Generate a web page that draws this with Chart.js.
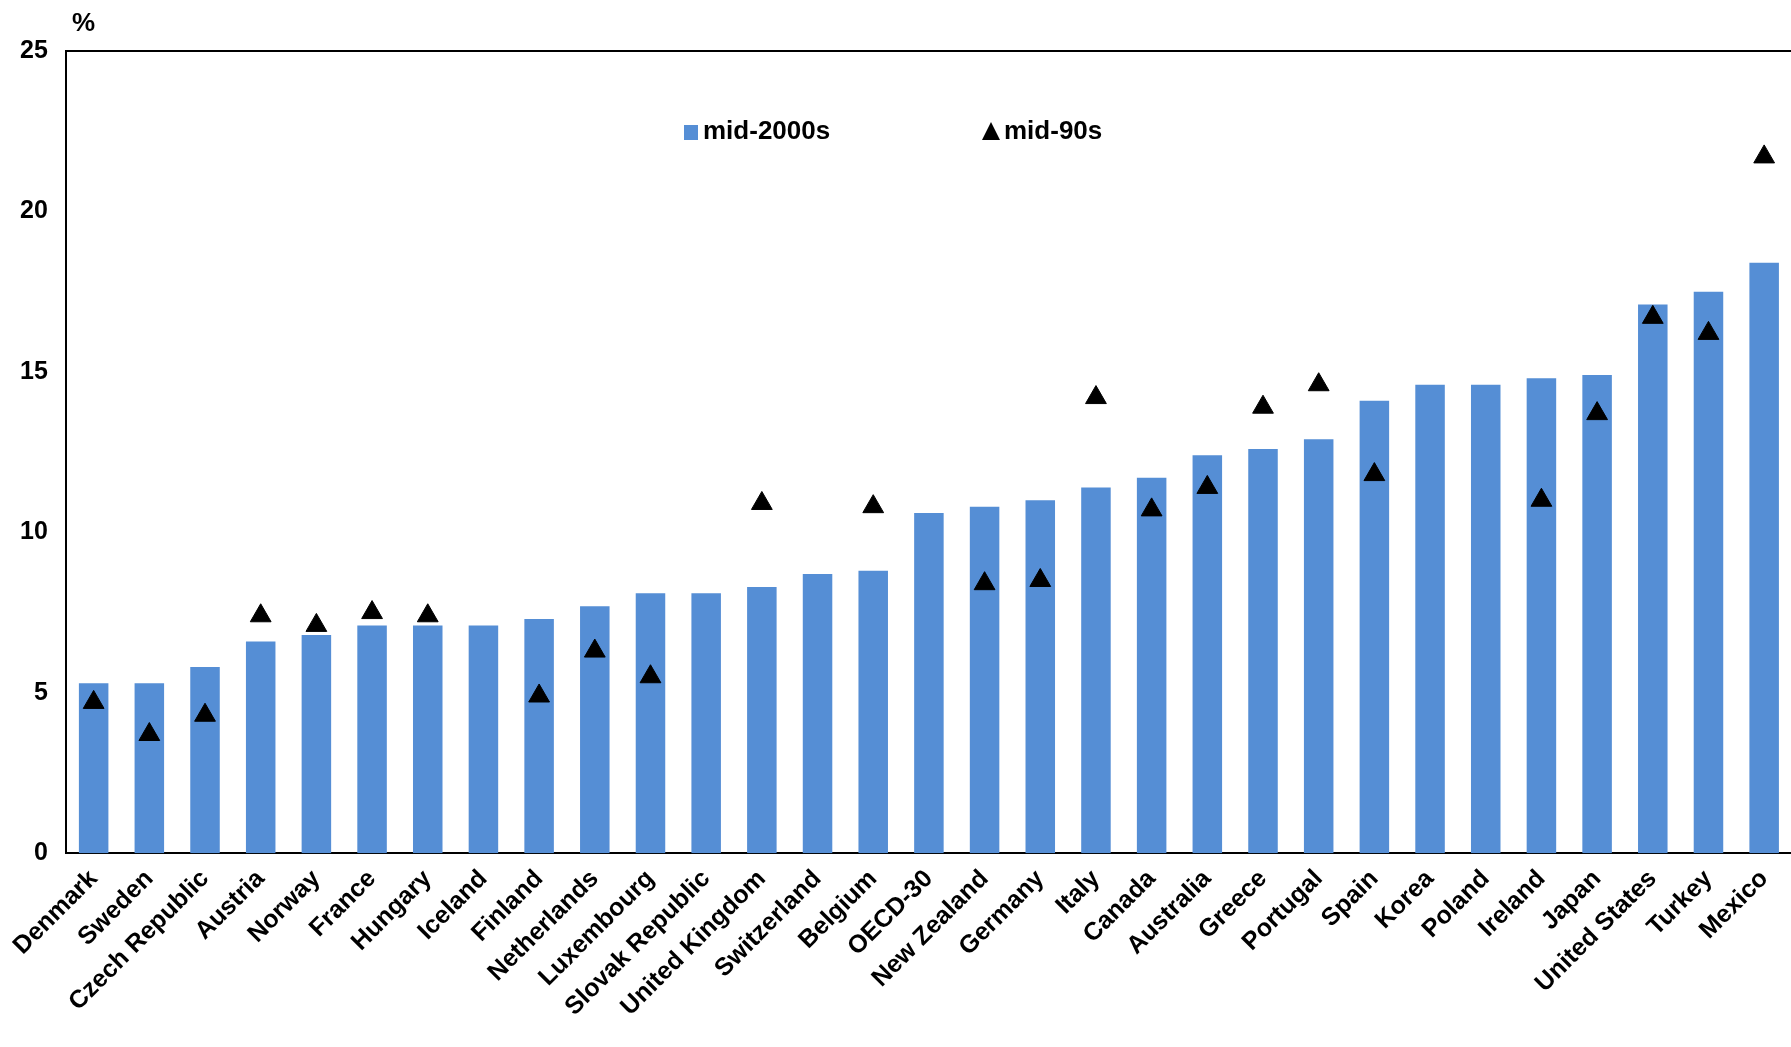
<!DOCTYPE html>
<html>
<head>
<meta charset="utf-8">
<script src="https://cdn.jsdelivr.net/npm/chart.js@4"></script>
<style>
  body { margin: 0; background: #fff; overflow: hidden; }
  #wrap { width: 1805px; height: 1047px; position: relative; }
</style>
</head>
<body>
<div id="wrap"><canvas id="chart"></canvas></div>
<script>
// Données
const countries = ['Denmark', 'Sweden', 'Czech Republic', 'Austria', 'Norway', 'France', 'Hungary', 'Iceland',
    'Finland', 'Netherlands', 'Luxembourg', 'Slovak Republic', 'United Kingdom', 'Switzerland', 'Belgium',
    'OECD-30', 'New Zealand', 'Germany', 'Italy', 'Canada', 'Australia', 'Greece', 'Portugal', 'Spain',
    'Korea', 'Poland', 'Ireland', 'Japan', 'United States', 'Turkey', 'Mexico'];
const mid2000s = [5.3, 5.3, 5.8, 6.6, 6.8, 7.1, 7.1, 7.1, 7.3, 7.7, 8.1, 8.1, 8.3, 8.7, 8.8,
    10.6, 10.8, 11.0, 11.4, 11.7, 12.4, 12.6, 12.9, 14.1, 14.6, 14.6, 14.8, 14.9, 17.1, 17.5, 18.4];
const mid90s = [4.7, 3.7, 4.3, 7.4, 7.1, 7.5, 7.4, null, 4.9, 6.3, 5.5, null, 10.9, null, 10.8,
    null, 8.4, 8.5, 14.2, 10.7, 11.4, 13.9, 14.6, 11.8, null, null, 11.0, 13.7, 16.7, 16.2, 21.7];
const yTicks = [0, 5, 10, 15, 20, 25];

const font = 'Liberation Sans, Arial, sans-serif';

// Légende + cadre du haut + symbole %
const extras = {
    id: 'extras',
    afterDraw(chart) {
        const c = chart.ctx;
        const a = chart.chartArea;
        c.save();
        c.strokeStyle = '#000';
        c.lineWidth = 2;
        c.beginPath();
        c.moveTo(a.left, a.top);
        c.lineTo(a.right, a.top);
        c.stroke();

        c.font = 'bold 26px ' + font;
        c.fillStyle = '#000';
        c.textBaseline = 'middle';
        c.fillText('%', 72, 24);

        // légende
        const ly = 132;
        c.fillStyle = '#558ed5';
        c.fillRect(684, ly - 7, 14, 15);
        c.fillStyle = '#000';
        c.fillText('mid-2000s', 703, ly);
        c.beginPath();
        c.moveTo(991, ly - 10);
        c.lineTo(1000, ly + 8);
        c.lineTo(982, ly + 8);
        c.closePath();
        c.fill();
        c.fillText('mid-90s', 1004, ly);
        c.restore();
    }
};

new Chart(document.getElementById('chart'), {
    type: 'bar',
    data: {
        labels: countries,
        datasets: [{
            label: 'mid-2000s',
            data: mid2000s,
            backgroundColor: '#558ed5',
            barPercentage: 0.53,
            categoryPercentage: 1,
            order: 2
        }, {
            type: 'line',
            label: 'mid-90s',
            data: mid90s,
            showLine: false,
            pointStyle: 'triangle',
            pointRadius: 12,
            backgroundColor: '#000',
            borderColor: '#000',
            order: 1
        }]
    },
    options: {
        responsive: true,
        maintainAspectRatio: false,
        animation: false,
        layout: { padding: { top: 51, right: 0, left: 10, bottom: 22 } },
        plugins: { legend: { display: false }, tooltip: { enabled: false } },
        scales: {
            x: {
                grid: { display: false },
                border: { color: '#000', width: 2 },
                ticks: {
                    color: '#000',
                    font: { family: font, size: 25, weight: 'bold' },
                    maxRotation: 45, minRotation: 45,
                    autoSkip: false
                }
            },
            y: {
                min: 0, max: 25,
                afterBuildTicks: axis => { axis.ticks = yTicks.map(v => ({ value: v })); },
                grid: { display: false, drawTicks: true },
                border: { color: '#000', width: 2 },
                ticks: {
                    color: '#000',
                    font: { family: font, size: 25, weight: 'bold' },
                    padding: 10
                }
            }
        }
    },
    plugins: [extras]
});
</script>
</body>
</html>
